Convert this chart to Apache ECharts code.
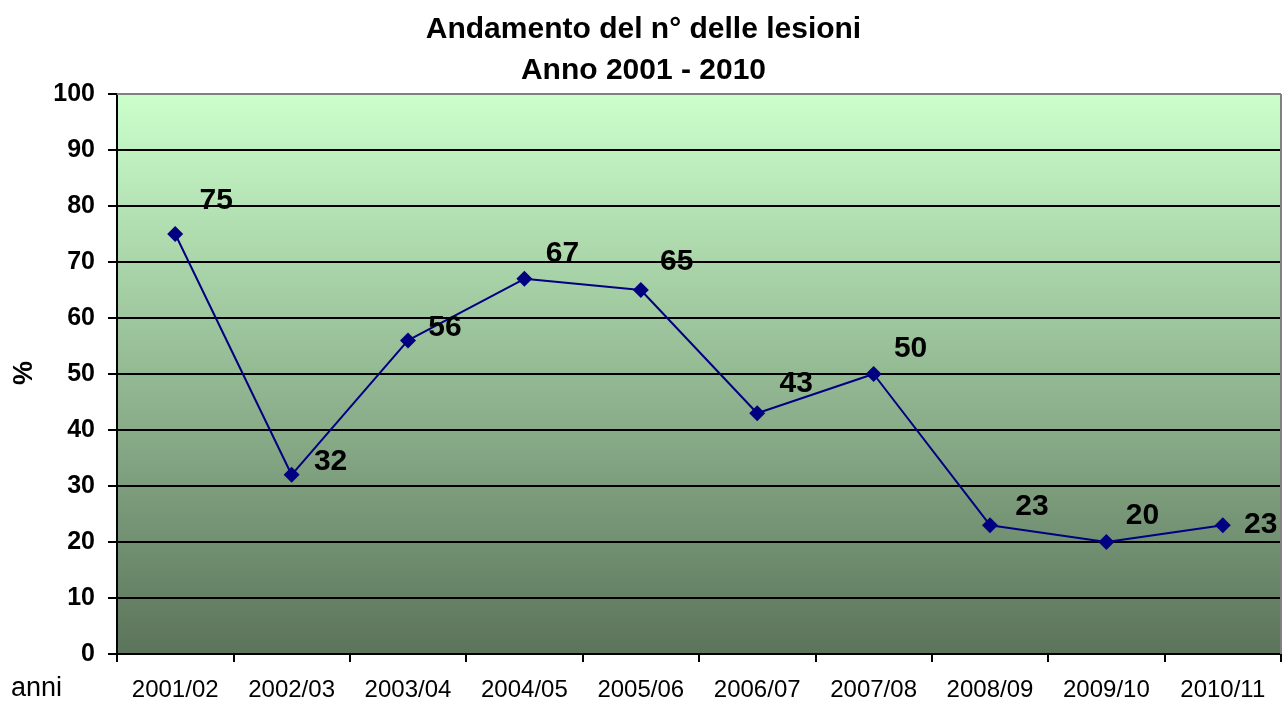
<!DOCTYPE html>
<html>
<head>
<meta charset="utf-8">
<title>Andamento del n° delle lesioni</title>
<script src="https://cdn.jsdelivr.net/npm/echarts@6/dist/echarts.min.js"></script>
<style>
  html, body { margin: 0; padding: 0; background: #fff; }
  #chart { width: 1287px; height: 708px; }
</style>
</head>
<body>
<div id="chart"></div>
<script>
// dati
const anni = ['2001/02', '2002/03', '2003/04', '2004/05', '2005/06', '2006/07', '2007/08', '2008/09', '2009/10', '2010/11'];
const lesioni = [75, 32, 56, 67, 65, 43, 50, 23, 20, 23];
const yMin = 0;
const yMax = 100;
const yStep = 10;

const font = '"Liberation Sans", Arial, sans-serif';
const chart = echarts.init(document.getElementById('chart'));

// spostamento delle etichette rispetto al punto (come nel grafico originale)
const spostamenti = [[41, -33], [39, -13], [37, -13], [38, -25], [36, -28], [39, -29], [37, -25], [42, -18], [36, -26], [38, 0]];
const punti = lesioni.map((v, i) => ({
  value: v,
  label: { offset: spostamenti[i] }
}));

chart.setOption({
  animation: false,
  textStyle: { fontFamily: font },
  title: {
    text: 'Andamento del n° delle lesioni\nAnno 2001 - 2010',
    left: 'center',
    top: 4,
    textStyle: { fontFamily: font, fontSize: 30, fontWeight: 'bold', color: '#000', lineHeight: 41 }
  },
  grid: {
    left: 117, right: 6, top: 94, bottom: 54,
    show: true,
    borderWidth: 0,
    backgroundColor: new echarts.graphic.LinearGradient(0, 0, 0, 1, [
      { offset: 0, color: '#ccffcc' },
      { offset: 1, color: '#5b745b' }
    ])
  },
  xAxis: {
    type: 'category',
    data: anni,
    boundaryGap: true,
    axisLine: { show: true, lineStyle: { color: '#000', width: 2 } },
    axisTick: { show: true, length: 8, lineStyle: { color: '#000', width: 2 } },
    axisLabel: { margin: 24, fontFamily: font, fontSize: 24, color: '#000' },
    splitLine: { show: false }
  },
  yAxis: [{
    type: 'value',
    min: yMin, max: yMax, interval: yStep,
    axisLine: { show: true, lineStyle: { color: '#000', width: 2 } },
    axisTick: { show: true, length: 9, lineStyle: { color: '#000', width: 2 } },
    axisLabel: { margin: 22, fontFamily: font, fontSize: 25, fontWeight: 'bold', color: '#000' },
    splitLine: { show: true, lineStyle: { color: '#000', width: 2 } }
  }],
  graphic: [
    // bordo superiore e destro grigio
    { type: 'line', shape: { x1: 117, y1: 94, x2: 1281, y2: 94 }, style: { stroke: '#808080', lineWidth: 2 }, z: 100 },
    { type: 'line', shape: { x1: 1281, y1: 94, x2: 1281, y2: 654 }, style: { stroke: '#808080', lineWidth: 2 }, z: 100 },
    {
      type: 'text', x: 25, y: 373, rotation: Math.PI / 2,
      style: { text: '%', font: 'bold 27px ' + font, fill: '#000', textAlign: 'center', textVerticalAlign: 'middle' }
    },
    {
      type: 'text', x: 11, y: 689,
      style: { text: 'anni', font: '27px ' + font, fill: '#000', textAlign: 'left', textVerticalAlign: 'middle' }
    }
  ],
  series: [{
    type: 'line',
    data: punti,
    symbol: 'diamond',
    symbolSize: 16,
    lineStyle: { color: '#000080', width: 2 },
    itemStyle: { color: '#000080' },
    label: {
      show: true,
      position: 'inside',
      fontFamily: font,
      fontSize: 30,
      fontWeight: 'bold',
      color: '#000'
    },
    z: 10
  }]
});
</script>
</body>
</html>
